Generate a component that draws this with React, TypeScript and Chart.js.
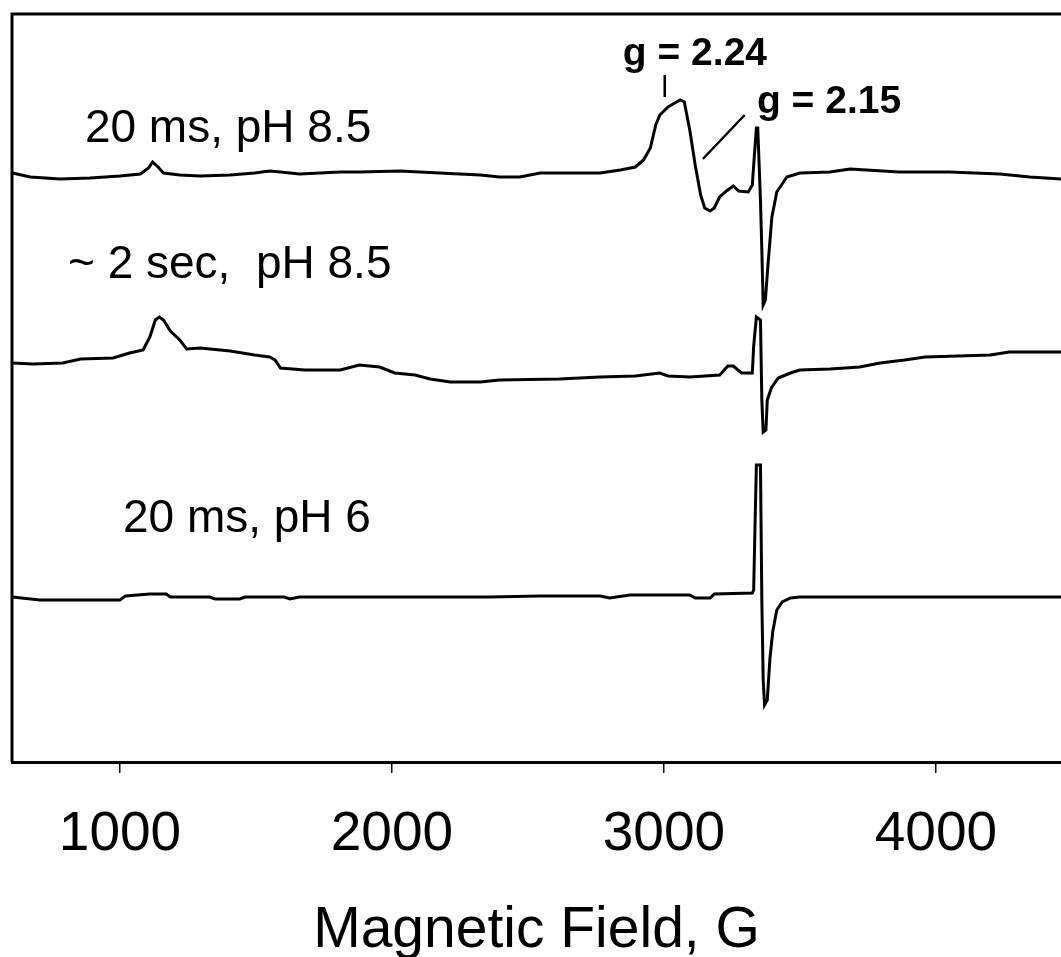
import React, { useEffect, useRef } from "react";
import Chart from "chart.js/auto";

// Magnetic field (G) and derivative intensity (a.u.) for each spectrum
const fieldA = [605, 670, 780, 890, 1000, 1075, 1105, 1120, 1140, 1160, 1220, 1295, 1405, 1495, 1550, 1590, 1660, 1810, 1880, 2030, 2175, 2325, 2395, 2470, 2545, 2765, 2840, 2895, 2925, 2950, 2970, 2985, 3015, 3040, 3060, 3075, 3095, 3115, 3135, 3150, 3170, 3185, 3205, 3230, 3255, 3275, 3310, 3325, 3330, 3340, 3345, 3355, 3360, 3365, 3373, 3382, 3397, 3415, 3452, 3500, 3610, 3685, 3865, 4050, 4235, 4345, 4460];
const intensityA = [2, -2, -4, -3, -1, 1, 7, 13, 8, 2, 0, -1, 0, 2, 4, 3, 1, 3, 3, 4, 2, 0, -2, -2, 2, 2, 5, 8, 15, 27, 50, 60, 68, 72, 75, 73, 45, 10, -20, -33, -36, -33, -22, -16, -11, -16, -17, -10, 10, 47, 47, -25, -75, -130, -125, -92, -42, -17, -2, 2, 3, 6, 3, 3, 1, -2, -4];

const fieldB = [605, 680, 790, 855, 975, 1035, 1085, 1110, 1130, 1145, 1160, 1185, 1220, 1245, 1295, 1405, 1495, 1550, 1570, 1590, 1680, 1810, 1880, 1955, 2010, 2085, 2140, 2215, 2325, 2395, 2615, 2765, 2895, 2985, 3015, 3095, 3205, 3235, 3255, 3285, 3325, 3330, 3340, 3355, 3360, 3365, 3375, 3380, 3395, 3420, 3465, 3500, 3610, 3720, 3795, 3885, 3960, 4200, 4270, 4460];
const intensityB = [2, 1, 2, 6, 7, 12, 15, 28, 45, 48, 45, 34, 25, 16, 17, 14, 10, 8, 5, -3, -5, -5, 0, -2, -8, -10, -14, -17, -17, -15, -14, -12, -11, -8, -11, -12, -10, -1, -1, -8, -8, 19, 48, 45, -35, -67, -65, -35, -23, -13, -8, -5, -4, -2, 2, 5, 8, 10, 13, 13];

const fieldC = [605, 705, 1000, 1020, 1110, 1170, 1185, 1330, 1350, 1440, 1460, 1605, 1625, 1660, 2030, 2360, 2545, 2765, 2800, 2875, 3095, 3115, 3170, 3185, 3325, 3330, 3335, 3340, 3355, 3360, 3365, 3370, 3380, 3390, 3400, 3415, 3435, 3465, 3500, 4460];
const intensityC = [0, -3, -3, 1, 3, 3, 0, 0, -2, -2, 0, 0, -2, 0, 0, 0, 1, 1, -1, 2, 2, -1, -1, 3, 4, 7, 72, 132, 132, -3, -83, -108, -103, -61, -35, -13, -5, -1, 0, 0];

// vertical stacking offsets of the three spectra
const offsets = [587, 397, 165];
const traceLabels = ["20 ms, pH 8.5", "~ 2 sec,  pH 8.5", "20 ms, pH 6"];
// label anchor (field, stacked intensity) for each trace label
const labelFields = [871, 809, 1011];
const labelLevels = [620, 484, 230];

const tickValues = [1000, 2000, 3000, 4000];
const xMin = 603;
const xMax = 4460;
const yMin = 0;
const yMax = 748;

const FONT = '"Liberation Sans", Arial, Helvetica, sans-serif';

export default function App() {
  const ref = useRef<HTMLCanvasElement | null>(null);
  useEffect(() => {
    const canvas = ref.current;
    if (!canvas) return;
    const mk = (f: number[], v: number[], off: number) =>
      f.map((x, i) => ({ x, y: v[i] + off }));

    const frame = {
      id: "frame",
      afterDraw(chart: any) {
        const { ctx, chartArea } = chart;
        ctx.save();
        ctx.strokeStyle = "#000";
        ctx.lineWidth = 3;
        ctx.beginPath();
        ctx.moveTo(chartArea.left, chartArea.bottom);
        ctx.lineTo(chartArea.left, chartArea.top);
        ctx.lineTo(chartArea.right + 2, chartArea.top);
        ctx.stroke();
        ctx.restore();
      },
    };

    const notes = {
      id: "notes",
      afterDatasetsDraw(chart: any) {
        const { ctx } = chart;
        const xs = chart.scales.x;
        const ys = chart.scales.y;
        ctx.save();
        ctx.fillStyle = "#000";
        ctx.textBaseline = "alphabetic";
        ctx.textAlign = "left";
        ctx.font = `46px ${FONT}`;
        traceLabels.forEach((t, i) => {
          ctx.fillText(t, xs.getPixelForValue(labelFields[i]), ys.getPixelForValue(labelLevels[i]));
        });
        ctx.font = `bold 39px ${FONT}`;
        ctx.fillText("g = 2.24", xs.getPixelForValue(2849), ys.getPixelForValue(697));
        ctx.fillText("g = 2.15", xs.getPixelForValue(3342), ys.getPixelForValue(649));
        ctx.strokeStyle = "#000";
        ctx.lineWidth = 2.5;
        ctx.beginPath();
        ctx.moveTo(xs.getPixelForValue(3003), ys.getPixelForValue(687));
        ctx.lineTo(xs.getPixelForValue(3003), ys.getPixelForValue(665));
        ctx.moveTo(xs.getPixelForValue(3143), ys.getPixelForValue(603));
        ctx.lineTo(xs.getPixelForValue(3297), ys.getPixelForValue(647));
        ctx.stroke();
        ctx.restore();
      },
    };

    const ds = (data: any[]) => ({
      data,
      borderColor: "#000",
      borderWidth: 3,
      pointRadius: 0,
      tension: 0,
      fill: false,
    });

    const chart = new Chart(canvas, {
      type: "line",
      data: {
        datasets: [
          ds(mk(fieldA, intensityA, offsets[0])),
          ds(mk(fieldB, intensityB, offsets[1])),
          ds(mk(fieldC, intensityC, offsets[2])),
        ],
      },
      options: {
        animation: false,
        responsive: false,
        devicePixelRatio: 1,
        layout: { padding: { left: 12, top: 14, right: 0, bottom: 0 } },
        plugins: { legend: { display: false }, tooltip: { enabled: false } },
        scales: {
          x: {
            type: "linear",
            min: xMin,
            max: xMax,
            afterBuildTicks: (scale: any) => {
              scale.ticks = tickValues.map((value) => ({ value }));
            },
            afterFit: (scale: any) => {
              scale.height = 195;
            },
            grid: {
              display: true,
              drawOnChartArea: false,
              drawTicks: true,
              tickLength: 11,
              color: "#000",
              lineWidth: 1.5,
            },
            border: { display: true, color: "#000", width: 3 },
            ticks: {
              color: "#000",
              font: { family: FONT, size: 55 },
              padding: 29,
              maxRotation: 0,
              autoSkip: false,
              callback: (value: any) => String(value),
            },
            title: {
              display: true,
              text: "Magnetic Field, G",
              color: "#000",
              font: { family: FONT, size: 57, lineHeight: 0.9 },
              padding: { top: 0, bottom: 0 },
            },
          },
          y: {
            type: "linear",
            display: false,
            min: yMin,
            max: yMax,
          },
        },
      },
      plugins: [frame, notes],
    });
    return () => chart.destroy();
  }, []);

  return (
    <div style={{ position: "absolute", left: 0, top: 0, width: 1061, height: 957, background: "#fff" }}>
      <canvas ref={ref} width={1061} height={957} style={{ display: "block" }} />
    </div>
  );
}
